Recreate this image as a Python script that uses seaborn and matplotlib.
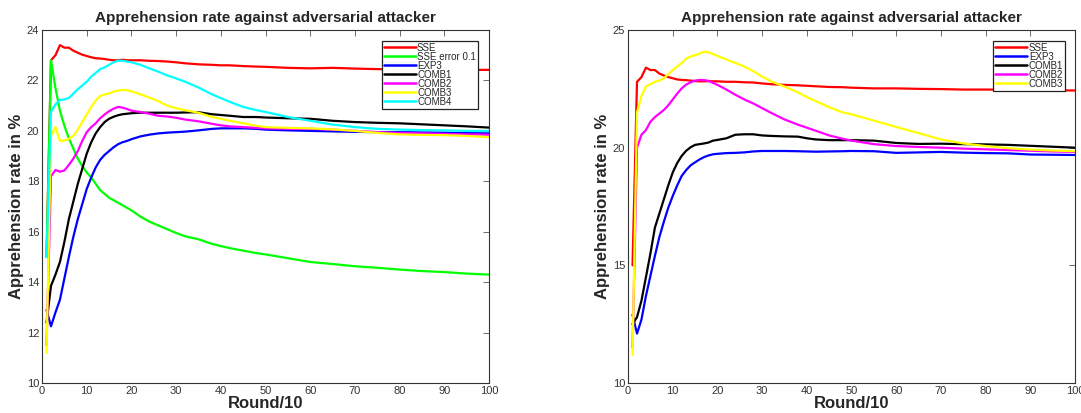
import numpy as np
import pandas as pd
import matplotlib
matplotlib.use("Agg")
import matplotlib.pyplot as plt
import seaborn as sns

# ---------------- data ----------------
X = [1, 2, 3, 4, 5, 6, 7, 8, 9, 10,
     11, 12, 13, 14, 15, 16, 17, 18, 19, 20,
     22, 24, 26, 28, 30, 32, 35, 38,
     40, 42, 45, 48, 50,
     55, 60, 65, 70, 75, 80, 85, 90, 95, 100]

left_sse = [15, 22.8, 23.0, 23.4, 23.3, 23.3, 23.18, 23.1, 23.02, 22.97,
            22.92, 22.88, 22.87, 22.85, 22.82, 22.8, 22.8, 22.82, 22.8, 22.8,
            22.8, 22.78, 22.77, 22.75, 22.72, 22.68, 22.64, 22.62,
            22.6, 22.6, 22.57, 22.55, 22.54,
            22.5, 22.48, 22.5, 22.47, 22.45, 22.44, 22.43, 22.43, 22.42, 22.42]
left_sse_err = [15, 22.8, 21.7, 20.8, 20.2, 19.7, 19.3, 18.9, 18.6, 18.35,
                18.15, 17.9, 17.65, 17.5, 17.35, 17.25, 17.15, 17.05, 16.95, 16.85,
                16.6, 16.4, 16.25, 16.1, 15.95, 15.82, 15.7, 15.52,
                15.43, 15.35, 15.25, 15.15, 15.1,
                14.95, 14.8, 14.72, 14.63, 14.57, 14.5, 14.44, 14.4, 14.34, 14.3]
left_exp3 = [12.9, 12.25, 12.8, 13.3, 14.15, 15.0, 15.8, 16.5, 17.1, 17.7,
             18.15, 18.55, 18.85, 19.05, 19.2, 19.35, 19.47, 19.55, 19.6, 19.67,
             19.78, 19.85, 19.9, 19.93, 19.95, 19.97, 20.02, 20.08,
             20.1, 20.1, 20.1, 20.08, 20.05,
             20.02, 20.0, 19.98, 19.96, 19.95, 19.95, 19.94, 19.93, 19.91, 19.9]
left_comb1 = [12.4, 13.85, 14.3, 14.8, 15.6, 16.5, 17.2, 17.9, 18.5, 19.1,
              19.55, 19.9, 20.15, 20.35, 20.48, 20.56, 20.62, 20.66, 20.68, 20.7,
              20.72, 20.72, 20.72, 20.72, 20.72, 20.73, 20.74, 20.66,
              20.63, 20.6, 20.55, 20.55, 20.53,
              20.5, 20.48, 20.4, 20.35, 20.32, 20.3, 20.26, 20.22, 20.18, 20.13]
left_comb2 = [11.5, 18.2, 18.45, 18.38, 18.43, 18.65, 18.9, 19.2, 19.6, 19.95,
              20.15, 20.3, 20.5, 20.65, 20.78, 20.88, 20.95, 20.92, 20.87, 20.8,
              20.75, 20.68, 20.6, 20.57, 20.52, 20.45, 20.38, 20.28,
              20.22, 20.18, 20.15, 20.12, 20.1,
              20.08, 20.08, 20.05, 20.0, 19.95, 19.92, 19.9, 19.88, 19.86, 19.85]
left_comb3 = [11.2, 19.8, 20.15, 19.6, 19.62, 19.68, 19.8, 20.05, 20.35, 20.65,
              20.95, 21.2, 21.38, 21.45, 21.48, 21.56, 21.6, 21.62, 21.62, 21.57,
              21.45, 21.32, 21.18, 21.0, 20.9, 20.82, 20.72, 20.55,
              20.48, 20.4, 20.3, 20.2, 20.15,
              20.12, 20.1, 20.06, 20.0, 19.92, 19.86, 19.84, 19.83, 19.8, 19.75]
left_comb4 = [15, 20.75, 21.05, 21.22, 21.25, 21.3, 21.48, 21.65, 21.8, 21.95,
              22.15, 22.3, 22.45, 22.52, 22.62, 22.72, 22.78, 22.78, 22.75, 22.72,
              22.62, 22.48, 22.35, 22.2, 22.08, 21.95, 21.72, 21.45,
              21.3, 21.15, 20.95, 20.82, 20.75,
              20.55, 20.4, 20.25, 20.15, 20.08, 20.05, 20.03, 20.02, 20.0, 20.0]

right_sse = [15, 22.8, 23.0, 23.4, 23.3, 23.3, 23.15, 23.07, 23.0, 22.95,
             22.9, 22.88, 22.87, 22.85, 22.83, 22.82, 22.82, 22.83, 22.82, 22.82,
             22.8, 22.8, 22.78, 22.77, 22.73, 22.7, 22.67, 22.65,
             22.63, 22.61, 22.58, 22.57, 22.55,
             22.52, 22.52, 22.5, 22.49, 22.47, 22.47, 22.46, 22.44, 22.44, 22.43]
right_exp3 = [12.9, 12.1, 12.7, 13.7, 14.55, 15.4, 16.2, 16.85, 17.45, 17.95,
              18.4, 18.8, 19.05, 19.25, 19.38, 19.5, 19.6, 19.67, 19.72, 19.74,
              19.77, 19.78, 19.8, 19.84, 19.86, 19.86, 19.86, 19.85,
              19.84, 19.83, 19.84, 19.85, 19.86,
              19.85, 19.78, 19.8, 19.82, 19.79, 19.77, 19.76, 19.71, 19.7, 19.69]
right_comb1 = [12.5, 12.8, 13.5, 14.5, 15.5, 16.6, 17.2, 17.8, 18.4, 18.95,
               19.35, 19.65, 19.87, 20.02, 20.12, 20.15, 20.18, 20.22, 20.3, 20.33,
               20.4, 20.55, 20.57, 20.57, 20.52, 20.5, 20.48, 20.47,
               20.4, 20.35, 20.32, 20.32, 20.32,
               20.3, 20.2, 20.16, 20.17, 20.15, 20.14, 20.12, 20.08, 20.04, 20.0]
right_comb2 = [11.5, 20.0, 20.55, 20.75, 21.1, 21.3, 21.45, 21.6, 21.8, 22.05,
               22.3, 22.52, 22.68, 22.78, 22.85, 22.88, 22.87, 22.84, 22.75, 22.67,
               22.47, 22.25, 22.05, 21.88, 21.68, 21.48, 21.2, 20.98,
               20.85, 20.72, 20.52, 20.38, 20.3,
               20.15, 20.07, 20.03, 20.0, 19.96, 19.93, 19.9, 19.87, 19.84, 19.82]
right_comb3 = [11.2, 21.5, 22.2, 22.6, 22.7, 22.8, 22.85, 22.95, 23.12, 23.3,
               23.45, 23.6, 23.78, 23.88, 23.93, 24.0, 24.08, 24.05, 23.98, 23.9,
               23.75, 23.6, 23.45, 23.25, 23.02, 22.82, 22.6, 22.35,
               22.15, 21.98, 21.72, 21.5, 21.42,
               21.15, 20.88, 20.62, 20.35, 20.18, 20.07, 19.98, 19.92, 19.88, 19.85]

left_labels = ["SSE", "SSE error 0.1", "EXP3", "COMB1", "COMB2", "COMB3", "COMB4"]
right_labels = ["SSE", "EXP3", "COMB1", "COMB2", "COMB3"]
left_yticks = [10, 12, 14, 16, 18, 20, 22, 24]
right_yticks = [10, 15, 20, 25]
xticks = [0, 10, 20, 30, 40, 50, 60, 70, 80, 90, 100]

palette = {"SSE": "#ff0000", "SSE error 0.1": "#00ff00", "EXP3": "#0000ff",
           "COMB1": "#000000", "COMB2": "#ff00ff", "COMB3": "#ffff00",
           "COMB4": "#00ffff"}

# ---------------- style ----------------
sns.set_style("white")
plt.rcParams['font.family'] = ['Liberation Sans', 'DejaVu Sans']

fig = plt.figure(figsize=(10.81, 4.13), dpi=100)
ax1 = fig.add_axes([0.0389, 0.0726, 0.4135, 0.8547])
ax2 = fig.add_axes([0.581, 0.0726, 0.4135, 0.8547])


def long_df(labels, series):
    frames = []
    for lab, vals in zip(labels, series):
        frames.append(pd.DataFrame({"round": X, "rate": vals, "series": lab}))
    return pd.concat(frames, ignore_index=True)


df_left = long_df(left_labels, [left_sse, left_sse_err, left_exp3, left_comb1,
                                left_comb2, left_comb3, left_comb4])
df_right = long_df(right_labels, [right_sse, right_exp3, right_comb1,
                                  right_comb2, right_comb3])


def draw(ax, df, labels, ylim, yticks, legend_right):
    sns.lineplot(data=df, x="round", y="rate", hue="series", hue_order=labels,
                 palette={k: palette[k] for k in labels}, linewidth=1.6,
                 ax=ax, sort=False, estimator=None, legend=True)
    ax.set_xlim(0, 100)
    ax.set_ylim(*ylim)
    ax.set_xticks(xticks)
    ax.set_yticks(yticks)
    ax.tick_params(direction="in", top=True, right=True, length=4, width=0.6,
                   colors="#555555", labelsize=8, labelcolor="#333333", pad=2)
    for sp in ax.spines.values():
        sp.set_color("#333333")
        sp.set_linewidth(0.8)
    ax.set_title("Apprehension rate against adversarial attacker",
                 fontsize=11, fontweight="bold", pad=6)
    ax.set_xlabel("Round/10", fontsize=12, fontweight="bold", labelpad=0)
    ax.set_ylabel("Apprehension rate in %", fontsize=12, fontweight="bold",
                  labelpad=2)
    handles, labs = ax.get_legend_handles_labels()
    leg = ax.legend(handles, labs, loc="upper right",
                    bbox_to_anchor=(legend_right, 0.97), fontsize=7,
                    frameon=True, fancybox=False, framealpha=1,
                    edgecolor="#222222", handlelength=3.3, handletextpad=0.15,
                    labelspacing=-0.1, borderpad=0.2, borderaxespad=0.0)
    leg.get_frame().set_linewidth(0.9)
    for line in leg.get_lines():
        line.set_linewidth(1.8)


draw(ax1, df_left, left_labels, (10, 24), left_yticks, 0.975)
draw(ax2, df_right, right_labels, (10, 25), right_yticks, 0.978)

fig.savefig("out.png", dpi=100)
